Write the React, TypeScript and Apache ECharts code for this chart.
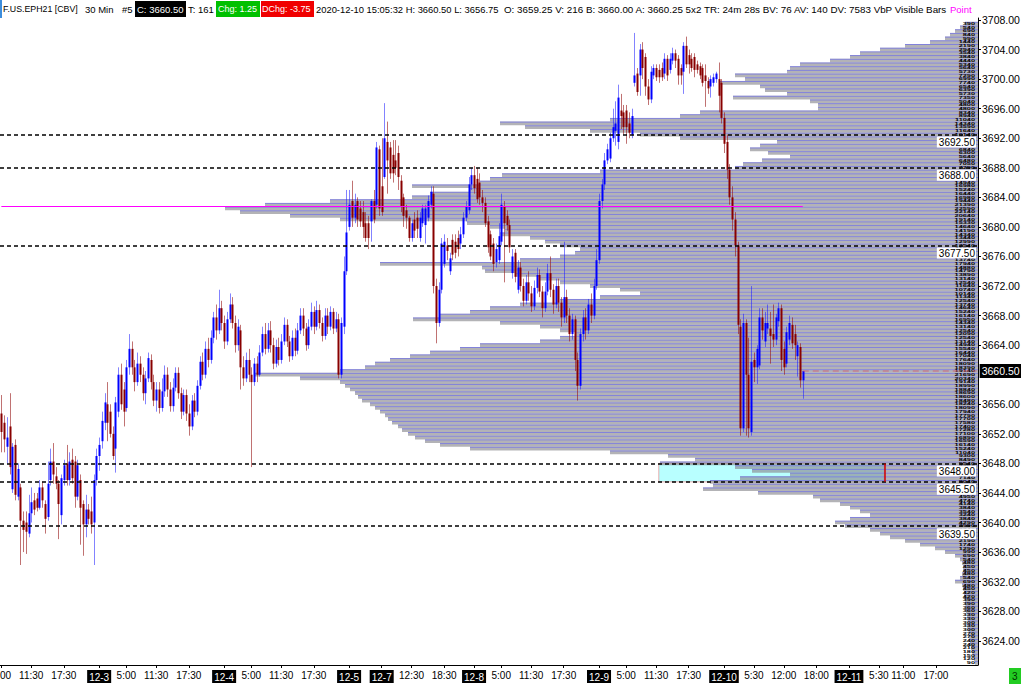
import React, { useEffect, useRef } from "react";
import * as echarts from "echarts";

// ---- candles: [open, close, low, high], one array per trading day (Beijing time, 30 min bars)
const dec2: number[][] = [
  [3654.75, 3652.25, 3649.5, 3657.25], [3653.5, 3651.25, 3649.5, 3654.5], [3650.25, 3651.5, 3648, 3654.25],
  [3653, 3647.5, 3646.5, 3657.5], [3644.5, 3650.25, 3644, 3650.75], [3650.5, 3643.75, 3643, 3651.25],
  [3643.5, 3647.25, 3643, 3648], [3644.75, 3640.25, 3634.25, 3645.25], [3640.25, 3639, 3636, 3641.5],
  [3640, 3638.75, 3635.75, 3641.5], [3638.5, 3641.25, 3638, 3643.75], [3641.25, 3642.75, 3640, 3644.75],
  [3643, 3641.75, 3641, 3644], [3643.25, 3642, 3641.5, 3644], [3642, 3644.75, 3641.75, 3645.75],
  [3644.75, 3643, 3642, 3645.5], [3642.5, 3640.5, 3638.5, 3643], [3640.75, 3645.25, 3640.25, 3648.25],
  [3645.75, 3648.25, 3645, 3650], [3648.25, 3646.5, 3645.25, 3650.75], [3646.25, 3645.25, 3644.5, 3647.5],
  [3645.25, 3642.5, 3637.75, 3645.75], [3641, 3646, 3639.75, 3646.5], [3645.75, 3647.75, 3645, 3648.5],
  [3648, 3645.75, 3645, 3650.5], [3645.75, 3648.25, 3645, 3649.5], [3648.5, 3646, 3645.25, 3650],
  [3648.25, 3643.5, 3642, 3649], [3643.5, 3647.75, 3643, 3648.5], [3645.75, 3642, 3637, 3646.5],
  [3642.5, 3639.75, 3635.5, 3643], [3639.75, 3641.75, 3638, 3643.75], [3641.75, 3640.5, 3639.75, 3642.5],
  [3641.5, 3639.75, 3638.5, 3643.5], [3640, 3645.75, 3634.25, 3646.5], [3645.75, 3649, 3645, 3650],
];
const dec3: number[][] = [
  [3649, 3650.5, 3647, 3651.5], [3651, 3653.75, 3650, 3655], [3653.5, 3656.25, 3652.5, 3657.5],
  [3656, 3653.5, 3651, 3659], [3655, 3652, 3651.5, 3656], [3652, 3649, 3648.5, 3653],
  [3650, 3656.25, 3646.75, 3657], [3655, 3660, 3654.25, 3661], [3660, 3656, 3655.25, 3661.5],
  [3658, 3655, 3653, 3659], [3655.5, 3661, 3655, 3662], [3661, 3663.5, 3660, 3665.5],
  [3663.5, 3661, 3660, 3664.5], [3661, 3659, 3657.75, 3662], [3659, 3661.5, 3658.5, 3663],
  [3661.5, 3660, 3659, 3662.5], [3660, 3657.5, 3656.5, 3661], [3657.5, 3659.5, 3656, 3660.5],
  [3659.5, 3662.25, 3659, 3663], [3662, 3659, 3658, 3662.75], [3659, 3656.5, 3655.75, 3660],
  [3656.5, 3658, 3655, 3659], [3658, 3655.5, 3654.75, 3659], [3655.5, 3657.75, 3655, 3659.5],
  [3657.75, 3660, 3657, 3661.25], [3660, 3658, 3657, 3661], [3658, 3655.75, 3655, 3659],
  [3655.75, 3658.25, 3655, 3659.5], [3658.25, 3660.25, 3657.75, 3661], [3660.25, 3657.5, 3656.75, 3661],
  [3657.5, 3655, 3654, 3658.25], [3655, 3657.25, 3654.5, 3658], [3657.25, 3654.75, 3653.75, 3658],
  [3654.75, 3653, 3651.75, 3656], [3653, 3656.5, 3652.5, 3657.25], [3656.5, 3655, 3654.25, 3657.5],
  [3655, 3658.5, 3654.5, 3659.25], [3658.5, 3661.75, 3658, 3662.5], [3661.75, 3660, 3659.25, 3663],
  [3660, 3663.5, 3659.5, 3664.5], [3663.5, 3662, 3661, 3665], [3662, 3665, 3661.5, 3666],
  [3665, 3667.75, 3664.25, 3668.5], [3667.75, 3666, 3664.75, 3669.5], [3666, 3669, 3665.5, 3671.5],
  [3669, 3667, 3666, 3670],
];
const dec4: number[][] = [
  [3667, 3664.5, 3663.5, 3668], [3664.5, 3667.5, 3664, 3668.5], [3667.5, 3669.5, 3667, 3671],
  [3669.5, 3667, 3666.25, 3670.5], [3667, 3664, 3663, 3668], [3664, 3666.5, 3663.25, 3667.5],
  [3666, 3661, 3658, 3666.75], [3661, 3659.5, 3658.5, 3662.5], [3659.5, 3662, 3659, 3663],
  [3662, 3660, 3659, 3663.5], [3660, 3659, 3647.5, 3661], [3659, 3661.5, 3658.5, 3662.25],
  [3661.5, 3660, 3659, 3662.5], [3660, 3663, 3659.75, 3664], [3663, 3665.5, 3662.5, 3666.5],
  [3665.5, 3663.5, 3662.75, 3667], [3663.5, 3666, 3663, 3667], [3666, 3664, 3663, 3667.25],
  [3664, 3661.5, 3660.75, 3665], [3661.5, 3663.75, 3661, 3664.75], [3663.75, 3662, 3661.25, 3665],
  [3662, 3664.5, 3661.5, 3665.5], [3664.5, 3666.75, 3664, 3667.75], [3666.75, 3664.5, 3663.75, 3667.5],
  [3664.5, 3662.5, 3661.75, 3665.25], [3662.5, 3665, 3662, 3666], [3665, 3663.25, 3662.5, 3666.25],
  [3663.25, 3666, 3662.75, 3667], [3666, 3668, 3665.5, 3669], [3668, 3666.25, 3665.25, 3669],
  [3666.25, 3664, 3663.25, 3667], [3664, 3666.5, 3663.5, 3667.5], [3666.5, 3668.5, 3666, 3669.75],
  [3668.5, 3666.5, 3665.5, 3669.25], [3666.5, 3668.75, 3666, 3670], [3668.75, 3667, 3666.25, 3669.5],
  [3667, 3665.25, 3664.5, 3667.75], [3665.25, 3668, 3664.75, 3669], [3668, 3666.5, 3665.5, 3669],
  [3666.5, 3668.5, 3666, 3669.25], [3668.5, 3666.25, 3665.5, 3669], [3666.25, 3667.5, 3665.75, 3668.5],
  [3667.5, 3660, 3659.5, 3668.25], [3660, 3667, 3659.5, 3667.75], [3666.5, 3674, 3665.5, 3676],
  [3674, 3679.25, 3673.5, 3685],
];
const dec5: number[][] = [
  [3680, 3683, 3679.5, 3685], [3683.5, 3681.25, 3680, 3686.25], [3681.25, 3683, 3680.5, 3684.5],
  [3683.5, 3681, 3680, 3684], [3682.5, 3680.75, 3680, 3683.5], [3682, 3680, 3678.5, 3683.5],
  [3680.5, 3678.5, 3678, 3682], [3680.5, 3678.5, 3677, 3681.5], [3680.75, 3683.5, 3678, 3683.75],
  [3683.5, 3681, 3680.5, 3685], [3683, 3690.75, 3682.5, 3691.5], [3690.5, 3682.5, 3681.5, 3691],
];
const dec7: number[][] = [
  [3685.5, 3682, 3681.5, 3692], [3686.75, 3692, 3686.5, 3696.75], [3691.5, 3689, 3684.5, 3694.25],
  [3690.75, 3687.25, 3686.5, 3691.5], [3689.75, 3687.25, 3686, 3691.75], [3689, 3688, 3687, 3691.75],
  [3690, 3686.75, 3685, 3691], [3686.25, 3682.75, 3682, 3687], [3684, 3681.5, 3680, 3684.5],
  [3682.25, 3681.25, 3679.75, 3683], [3681.25, 3678.5, 3678, 3681.5], [3678.5, 3680.5, 3678, 3681],
  [3681, 3679.5, 3678.5, 3682], [3681.25, 3679.75, 3678.5, 3682.25], [3678.5, 3681.25, 3678, 3682],
  [3680.5, 3682.5, 3680, 3683], [3680.25, 3682.5, 3677.75, 3683], [3681.25, 3683.5, 3680.75, 3684.25],
  [3683, 3684.75, 3682.5, 3685.5], [3684.5, 3672, 3671, 3685.5], [3672, 3667, 3664.25, 3673],
  [3667, 3671.5, 3666.5, 3672.5], [3671.5, 3677.75, 3671, 3678.5], [3675, 3678, 3674.5, 3679],
  [3677.5, 3676.75, 3675.5, 3678.5], [3674, 3675.75, 3673.5, 3676.5], [3678.25, 3676.25, 3675.5, 3679],
  [3678, 3676.5, 3675.75, 3679], [3678.5, 3677, 3676, 3679.5], [3677.75, 3679, 3677, 3680],
  [3679, 3681.25, 3678.5, 3682], [3681.25, 3682.75, 3680.75, 3683.5], [3682.25, 3685.75, 3681.75, 3686.75],
  [3685.75, 3687, 3685, 3688],
];
const dec8: number[][] = [
  [3687, 3685.25, 3684.5, 3688.25], [3686.5, 3683.75, 3683.25, 3688], [3686, 3684, 3683, 3687.25],
  [3684, 3683.25, 3682, 3685], [3683.25, 3680.5, 3680, 3684], [3680.75, 3677.25, 3676.5, 3681.5],
  [3679, 3676, 3675.5, 3679.5], [3677.75, 3675, 3674, 3678.5], [3675.25, 3677, 3674.5, 3677.75],
  [3675.5, 3678.75, 3675, 3680.5], [3678, 3683, 3677.5, 3684.5], [3682.75, 3680.5, 3672.5, 3683.5],
  [3681.5, 3680.25, 3679.5, 3682.25], [3680.25, 3677.25, 3676.5, 3681], [3673.75, 3676, 3673, 3677],
  [3676.5, 3673.25, 3672.5, 3677], [3671.5, 3674.5, 3671, 3675.5], [3674.5, 3672, 3671.25, 3675.25],
  [3672, 3670, 3669.25, 3673], [3670, 3672.5, 3669.5, 3673.5], [3672.5, 3671, 3670, 3674],
  [3671, 3669.25, 3668.5, 3672], [3669.25, 3671.75, 3668.75, 3672.75], [3671.75, 3673.5, 3671, 3674.5],
  [3673.5, 3671.25, 3670.5, 3674.25], [3671.25, 3669, 3667.75, 3672], [3669, 3671.25, 3668.5, 3672.5],
  [3671.25, 3673.75, 3670.75, 3675], [3673.75, 3671.5, 3670.5, 3676], [3671.5, 3669.5, 3668.25, 3672.25],
  [3669.5, 3672, 3669, 3673], [3672, 3669.75, 3668.5, 3673], [3669.75, 3667.75, 3666.5, 3670.5],
  [3667.75, 3670.5, 3667, 3678], [3670.5, 3668, 3667, 3671.5], [3668, 3665.5, 3664.5, 3669],
  [3665.5, 3667.5, 3664.75, 3668.25], [3667.5, 3662, 3660.5, 3668], [3662, 3658.5, 3656.5, 3663],
  [3658.5, 3665.5, 3658, 3666.25], [3665.5, 3667.75, 3664.5, 3668.75], [3667.75, 3666, 3664.75, 3669],
  [3666, 3669.5, 3665.5, 3670.25], [3669.5, 3668, 3667, 3671], [3668, 3672, 3667.5, 3673],
  [3672, 3675.5, 3671.5, 3677],
];
const dec9: number[][] = [
  [3675.5, 3683.5, 3675, 3684.5], [3683.5, 3685.75, 3682.5, 3686.5], [3685.75, 3689, 3685, 3690],
  [3689, 3690.5, 3688.5, 3691.25], [3689.25, 3692, 3688.75, 3692.75], [3692, 3693.5, 3691.5, 3696],
  [3693, 3694, 3691, 3697], [3691.5, 3697.5, 3690.5, 3699.25], [3695.75, 3695, 3693.25, 3698],
  [3695.5, 3693.5, 3692.5, 3696.5], [3695.75, 3693.5, 3691.25, 3696.5], [3694, 3692.75, 3692, 3695.5],
  [3692.5, 3695, 3692, 3696], [3699.5, 3700.5, 3699, 3706.25], [3700.75, 3698.25, 3697.75, 3701.5],
  [3700.5, 3704, 3697.75, 3704.75], [3704, 3701.5, 3700, 3705], [3703, 3699, 3697.75, 3703.5],
  [3699, 3697.25, 3696.5, 3700], [3697.25, 3701, 3696.75, 3701.75], [3700.5, 3701.5, 3700, 3702],
  [3701.5, 3700.25, 3699.75, 3702], [3701.25, 3700.25, 3699.5, 3702], [3701.5, 3700.25, 3699.75, 3702.25],
  [3700.75, 3702.75, 3700, 3703.5], [3702.75, 3700.5, 3699.75, 3703.25], [3701.25, 3702.75, 3700.75, 3703.5],
  [3702.5, 3703.5, 3702, 3704.25], [3703.5, 3702.5, 3701.5, 3704], [3702.75, 3700.5, 3699.25, 3703.25],
  [3701.5, 3700.5, 3699.25, 3702], [3701, 3704.5, 3698, 3705], [3704.5, 3702, 3701.5, 3705.75],
  [3703.25, 3702, 3700.75, 3704], [3702.75, 3701.5, 3701, 3703.5], [3703, 3701.25, 3700.25, 3703.5],
  [3702, 3701.25, 3700.75, 3702.5], [3701.75, 3700.5, 3700, 3702.25], [3701.5, 3699.5, 3699, 3702],
  [3700.5, 3699.75, 3696.25, 3702], [3699.75, 3698.75, 3698, 3700.25], [3699, 3700, 3697.5, 3700.5],
  [3699.5, 3700.25, 3699, 3700.75], [3700, 3700.75, 3699.5, 3701], [3700, 3697.75, 3695.5, 3702.25],
  [3699.5, 3694.75, 3694, 3700],
];
const dec10: number[][] = [
  [3694.75, 3691.25, 3690, 3695.5], [3691.5, 3687.75, 3686.5, 3692.5], [3687.75, 3684, 3683, 3688.5],
  [3684, 3681, 3679.5, 3685.5], [3681, 3677.5, 3676, 3682], [3677.5, 3666.75, 3665.5, 3678],
  [3666.5, 3652.75, 3651.75, 3667.5], [3652.75, 3667, 3652.25, 3668.25], [3667, 3660, 3651.75, 3667.5],
  [3660, 3652.75, 3651.5, 3665], [3652.25, 3661.75, 3651.75, 3672], [3662, 3661, 3659, 3663],
  [3661, 3663.5, 3658.75, 3664], [3661.25, 3667.75, 3660.75, 3669], [3667.75, 3666, 3664.75, 3669],
  [3664.5, 3667, 3663.75, 3668.5], [3666.25, 3667, 3665.5, 3669.5], [3666.25, 3665.25, 3661.5, 3668.5],
  [3665.5, 3664.75, 3663.75, 3669.5], [3664.75, 3667.75, 3664, 3668.25], [3667.25, 3669, 3666.5, 3669.75],
  [3669, 3662, 3660.5, 3669.5], [3663.5, 3661, 3660, 3664.5], [3661.5, 3665.75, 3661, 3666.5],
  [3664.75, 3667, 3664, 3668], [3666.75, 3664.25, 3663.5, 3667.75], [3665.5, 3664, 3662, 3666.75],
  [3662.5, 3664, 3659.75, 3664.5], [3663.75, 3659.25, 3658.25, 3664.25], [3659.25, 3660.5, 3656.75, 3660.5],
];

// ---- volume by price (visible bars): [price, volume]
const profile: number[][] = [
  [3707.5, 390], [3707, 540], [3706.5, 690], [3706, 840], [3705.5, 990], [3705, 1440], [3704.5, 2190], [3704, 2940],
  [3703.5, 3540], [3703, 3840], [3702.5, 4440], [3702, 5340], [3701.5, 5640], [3701, 5730], [3700.5, 7290], [3700, 6990],
  [3699.5, 7740], [3699, 6540], [3698.5, 6390], [3698, 5730], [3697.5, 7350], [3697, 5040], [3696.5, 4800], [3696, 4800],
  [3695.5, 8340], [3695, 8940], [3694.5, 11040], [3694, 14340], [3693.5, 13590], [3693, 11640], [3692.5, 10140], [3692, 8940],
  [3691.5, 6030], [3691, 6540], [3690.5, 6840], [3690, 6300], [3689.5, 5640], [3689, 6480], [3688.5, 7050], [3688, 7290],
  [3687.5, 11340], [3687, 14280], [3686.5, 14640], [3686, 14940], [3685.5, 16980], [3685, 15240], [3684.5, 16440], [3684, 16980],
  [3683.5, 19440], [3683, 21390], [3682.5, 22590], [3682, 22140], [3681.5, 20640], [3681, 19140], [3680.5, 15330], [3680, 14640],
  [3679.5, 14190], [3679, 14340], [3678.5, 13440], [3678, 12990], [3677.5, 12540], [3677, 11940], [3676.5, 12090], [3676, 12540],
  [3675.5, 13740], [3675, 17940], [3674.5, 14880], [3674, 14790], [3673.5, 13890], [3673, 13140], [3672.5, 12540], [3672, 11640],
  [3671.5, 10740], [3671, 10140], [3670.5, 11340], [3670, 12540], [3669.5, 13740], [3669, 14640], [3668.5, 15240], [3668, 16140],
  [3667.5, 16950], [3667, 14340], [3666.5, 13140], [3666, 12540], [3665.5, 12090], [3665, 12540], [3664.5, 13140], [3664, 14940],
  [3663.5, 15540], [3663, 16440], [3662.5, 17040], [3662, 17640], [3661.5, 18090], [3661, 18390], [3660.5, 19140], [3660, 21690],
  [3659.5, 20340], [3659, 19140], [3658.5, 18990], [3658, 18840], [3657.5, 18690], [3657, 18600], [3656.5, 18480], [3656, 18240],
  [3655.5, 18090], [3655, 17940], [3654.5, 17790], [3654, 17700], [3653.5, 17580], [3653, 17400], [3652.5, 17280], [3652, 17100],
  [3651.5, 16890], [3651, 16590], [3650.5, 16140], [3650, 15240], [3649.5, 11040], [3649, 9300], [3648.5, 8490], [3648, 9540],
  [3647.5, 7290], [3647, 6780], [3646.5, 5640], [3646, 7140], [3645.5, 8040], [3645, 7950], [3644.5, 8250], [3644, 6600],
  [3643.5, 4950], [3643, 4740], [3642.5, 4140], [3642, 3840], [3641.5, 3540], [3641, 3240], [3640.5, 3840], [3640, 4290],
  [3639.5, 3990], [3639, 3240], [3638.5, 2940], [3638, 2640], [3637.5, 2190], [3637, 1740], [3636.5, 1290], [3636, 990],
  [3635.5, 690], [3635, 540], [3634.5, 480], [3634, 450], [3633.5, 450], [3633, 480], [3632.5, 540], [3632, 690],
  [3631.5, 480], [3631, 450], [3630.5, 420], [3630, 420], [3629.5, 390], [3629, 390], [3628.5, 360], [3628, 360],
  [3627.5, 330], [3627, 330], [3626.5, 300], [3626, 330], [3625.5, 300], [3625, 270], [3624.5, 270], [3624, 240],
  [3623.5, 240], [3623, 210], [3622.5, 180], [3622, 150], [3621.5, 120], [3621, 90],
];

const levelLines = [3692.5, 3688.0, 3677.5, 3648.0, 3645.5, 3639.5];
const pocPrice = 3682.75;
const lastPrice = 3660.5;
const zoneTop = 3648.0;
const zoneBottom = 3645.5;
const zoneStart = "12-09 12:00";
const zoneEnd = "12-11 07:30";
// right-axis labels (3660.00 is hidden under the last-price box in the reference)
const yTicks = [3624, 3628, 3632, 3636, 3640, 3644, 3648, 3652, 3656, 3664, 3668, 3672, 3676, 3680, 3684, 3688, 3692, 3696, 3700, 3704, 3708];
const xTickTimes = [
  "12-02 05:00", "12-02 11:30", "12-02 17:30", "12-03 00:00", "12-03 05:00", "12-03 11:30", "12-03 17:30",
  "12-04 00:00", "12-04 05:00", "12-04 11:30", "12-04 17:30", "12-05 00:00", "12-07 07:00", "12-07 12:30",
  "12-07 18:30", "12-08 00:00", "12-08 05:00", "12-08 11:30", "12-08 17:30", "12-09 00:00", "12-09 05:00",
  "12-09 11:30", "12-09 17:30", "12-10 00:00", "12-10 05:30", "12-10 12:00", "12-10 18:00", "12-11 00:00",
  "12-11 05:30", "12-11 11:00", "12-11 17:00",
];
const xTickTexts = [
  "5:00", "11:30", "17:30", "12-3", "5:00", "11:30", "17:30", "12-4", "5:00", "11:30", "17:30", "12-5",
  "12-7", "12:30", "18:30", "12-8", "5:00", "11:30", "17:30", "12-9", "5:00", "11:30", "17:30", "12-10",
  "5:30", "12:00", "18:00", "12-11", "5:30", "11:00", "17:00",
];
// trading sessions: [date, first bar, last bar]
const sessionPlan: string[][] = [
  ["12-02", "05:00", "05:30"], ["12-02", "07:00", "23:30"],
  ["12-03", "00:00", "05:30"], ["12-03", "07:00", "23:30"],
  ["12-04", "00:00", "05:30"], ["12-04", "07:00", "23:30"],
  ["12-05", "00:00", "05:30"],
  ["12-07", "07:00", "23:30"],
  ["12-08", "00:00", "05:30"], ["12-08", "07:00", "23:30"],
  ["12-09", "00:00", "05:30"], ["12-09", "07:00", "23:30"],
  ["12-10", "00:00", "05:30"], ["12-10", "07:00", "23:30"],
  ["12-11", "00:00", "05:30"], ["12-11", "07:00", "23:30"],
  ["12-12", "00:00", "00:30"],
];

const FONT = '"Liberation Sans", Arial, sans-serif';

function buildSlots(): string[] {
  const out: string[] = [];
  const toMin = (s: string) => parseInt(s.slice(0, 2), 10) * 60 + parseInt(s.slice(3), 10);
  for (const [d, a, b] of sessionPlan) {
    for (let m = toMin(a); m <= toMin(b); m += 30) {
      const hh = String(Math.floor(m / 60)).padStart(2, "0");
      const mm = String(m % 60).padStart(2, "0");
      out.push(d + " " + hh + ":" + mm);
    }
  }
  return out;
}

export default function App() {
  const ref = useRef<HTMLDivElement>(null);
  useEffect(() => {
    document.body.style.margin = "0";
    if (!ref.current) return;
    const chart = echarts.init(ref.current, null, { renderer: "svg" });
    const slots = buildSlots();
    const candles = [...dec2, ...dec3, ...dec4, ...dec5, ...dec7, ...dec8, ...dec9, ...dec10];
    const candleData = candles.map((c, i) => [i, c[0], c[1], c[2], c[3]]);
    const lastIdx = candles.length - 1;
    const labelMap: Record<number, string> = {};
    xTickTimes.forEach((t, k) => {
      const idx = slots.indexOf(t);
      if (idx >= 0) labelMap[idx] = xTickTexts[k];
    });
    const zoneS = slots.indexOf(zoneStart);
    const zoneE = slots.indexOf(zoneEnd);

    const HF = "9.5px " + FONT;
    const header: any[] = [];
    const txt = (x: number, s: string, fill = "#000", font = HF) => ({
      type: "text", x, y: 9, silent: true,
      style: { text: s, fill, font, verticalAlign: "middle" },
    });
    const box = (x: number, w: number, fill: string) => ({
      type: "rect", silent: true, shape: { x, y: 1, width: w, height: 16 }, style: { fill },
    });
    header.push({ type: "rect", silent: true, shape: { x: 0, y: 0, width: 2, height: 18 }, style: { fill: "#3C8DDC" } });
    header.push(txt(3, "F.US.EPH21 [CBV]", "#000", "8.8px " + FONT));
    header.push(txt(85, "30 Min"));
    header.push(txt(122, "#5"));
    header.push(box(135, 51, "#000"));
    header.push(txt(137, "C: 3660.50", "#fff"));
    header.push(txt(188, "T: 161"));
    header.push(box(216, 44, "#00C000"));
    header.push(txt(218, "Chg: 1.25", "#fff", "9px " + FONT));
    header.push(box(261, 53, "#F00000"));
    header.push(txt(262, "DChg: -3.75", "#fff", "9px " + FONT));
    header.push(txt(316, "2020-12-10 15:05:32 H: 3660.50 L: 3656.75", "#000", "9.4px " + FONT));
    header.push(txt(504, "O: 3659.25 V: 216 B: 3660.00 A: 3660.25 5x2 TR: 24m 28s BV: 76 AV: 140 DV: 7583 VbP Visible Bars", "#000", "9.8px " + FONT));
    header.push(txt(950, "Point", "#FF00FF"));
    header.push({ type: "rect", silent: true, shape: { x: 1009, y: 668, width: 12, height: 16 }, style: { fill: "#22CC22" } });
    header.push({ type: "text", x: 1012, y: 676, silent: true, style: { text: "3", fill: "#003300", font: "10px " + FONT, verticalAlign: "middle" } });

    const option: any = {
      animation: false,
      textStyle: { fontFamily: FONT },
      grid: { left: 0, right: 43, top: 18, bottom: 21, containLabel: false, outerBoundsMode: "none" },
      xAxis: [
        {
          type: "category", data: slots, boundaryGap: true,
          axisLine: { show: true, lineStyle: { color: "#000", width: 1 } },
          axisTick: { show: true, alignWithLabel: true, length: 3, interval: (i: number) => labelMap[i] !== undefined, lineStyle: { color: "#000" } },
          axisLabel: {
            interval: (i: number) => labelMap[i] !== undefined,
            formatter: (_v: string, i: number) => {
              const t = labelMap[i];
              if (t === undefined) return "";
              return t.indexOf("-") >= 0 ? "{d|" + t + "}" : t;
            },
            color: "#000", fontSize: 10, margin: 5, fontFamily: FONT,
            rich: { d: { backgroundColor: "#000", color: "#fff", padding: [2, 2, 1, 2], fontSize: 10, fontFamily: FONT } },
          },
          splitLine: { show: false },
        },
        { type: "value", inverse: true, min: 0, max: 29340, show: false },
      ],
      yAxis: {
        type: "value", position: "right", min: 3620.72, max: 3708.27, scale: true,
        axisLine: { show: true, lineStyle: { color: "#000" } },
        axisTick: { show: true, length: 3, customValues: yTicks, lineStyle: { color: "#000" } },
        axisLabel: { customValues: yTicks, formatter: (v: number) => v.toFixed(2), color: "#000", fontSize: 10.5, margin: 4, fontFamily: FONT },
        splitLine: { show: false },
      },
      graphic: header,
      series: [
        {
          type: "line", data: [], z: 0, silent: true,
          markArea: {
            silent: true,
            itemStyle: { color: "rgb(184,255,255)", borderColor: "rgba(230,120,120,0.6)", borderWidth: 1 },
            data: [[{ coord: [zoneS, zoneTop] }, { coord: [zoneE, zoneBottom] }]],
          },
        },
        {
          type: "custom", xAxisIndex: 1, yAxisIndex: 0, z: 1, silent: true,
          data: profile.map((p) => [p[1], p[0]]),
          encode: { x: 0, y: 1 },
          renderItem: (_p: any, api: any) => {
            const v = api.value(0);
            const pr = api.value(1);
            const a = api.coord([v, pr + 0.25]);
            const b = api.coord([0, pr - 0.25]);
            return {
              type: "group",
              children: [
                { type: "rect", shape: { x: a[0], y: a[1], width: b[0] - a[0], height: b[1] - a[1] }, style: { fill: "rgba(140,140,144,0.66)" } },
                { type: "line", shape: { x1: a[0], y1: a[1] + 0.5, x2: b[0], y2: a[1] + 0.5 }, style: { stroke: "rgba(110,110,235,0.7)", lineWidth: 1 } },
                {
                  type: "text", x: b[0] - 3, y: (a[1] + b[1]) / 2, scaleX: 2.1, scaleY: 1, originX: 0, originY: 0,
                  style: { text: String(v), fill: "#000", font: "bold 3.5px " + FONT, align: "right", verticalAlign: "middle" },
                },
              ],
            };
          },
        },
        {
          type: "custom", xAxisIndex: 0, yAxisIndex: 0, z: 3, silent: true,
          data: candleData,
          encode: { x: 0, y: [1, 2, 3, 4] },
          renderItem: (_p: any, api: any) => {
            const i = api.value(0);
            const o = api.value(1), c = api.value(2), l = api.value(3), h = api.value(4);
            const up = c >= o;
            const pO = api.coord([i, o]);
            const pC = api.coord([i, c]);
            const pL = api.coord([i, l]);
            const pH = api.coord([i, h]);
            const x = Math.round(pO[0]);
            const top = Math.min(pO[1], pC[1]);
            const hh = Math.max(1, Math.abs(pO[1] - pC[1]));
            return {
              type: "group",
              children: [
                { type: "line", shape: { x1: x + 0.5, y1: pH[1], x2: x + 0.5, y2: pL[1] }, style: { stroke: up ? "rgba(30,30,255,0.55)" : "rgba(150,20,20,0.6)", lineWidth: 1 } },
                { type: "rect", shape: { x: x - 0.5, y: top, width: 2, height: hh }, style: { fill: up ? "#0000FF" : "#880000" } },
              ],
            };
          },
        },
        {
          type: "line", data: [], z: 5, silent: true,
          markLine: {
            silent: true, symbol: ["none", "none"],
            data: [
              ...levelLines.map((v) => ({
                yAxis: v,
                lineStyle: { color: "#000", type: [4, 3], width: 1.5 },
                label: {
                  show: true, position: "insideEndBottom", distance: 2, formatter: () => v.toFixed(2),
                  backgroundColor: "#fff", color: "#000", padding: [1, 1, 0, 2], fontSize: 10, fontFamily: FONT,
                },
              })),
              [
                { coord: [0, pocPrice], lineStyle: { color: "#FF00FF", width: 1, type: "solid" }, label: { show: false } },
                { coord: [lastIdx, pocPrice] },
              ],
              [
                { coord: [lastIdx, lastPrice], lineStyle: { color: "rgba(215,90,110,0.55)", width: 1.5, type: [6, 4] },
                  label: { show: true, position: "end", distance: 3, formatter: () => lastPrice.toFixed(2), backgroundColor: "#000", color: "#fff", padding: [2, 2, 1, 2], fontSize: 10.5, fontFamily: FONT } },
                { coord: [slots.length - 1, lastPrice] },
              ],
              [
                { coord: [zoneE, zoneTop], lineStyle: { color: "#D00000", width: 1.5, type: "solid" }, label: { show: false } },
                { coord: [zoneE, zoneBottom] },
              ],
            ],
          },
        },
      ],
    };
    chart.setOption(option);
    return () => chart.dispose();
  }, []);
  return <div ref={ref} style={{ width: 1021, height: 686, background: "#fff" }} />;
}
